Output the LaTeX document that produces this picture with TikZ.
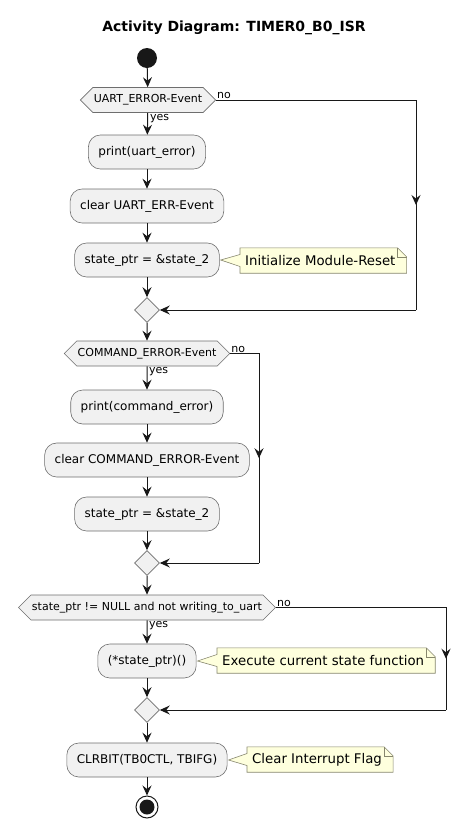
\documentclass[tikz,border=0pt]{standalone}
\usepackage{fontspec}
\setmainfont{DejaVu Sans}
\usetikzlibrary{arrows.meta,shapes.geometric,shapes.symbols,backgrounds,calc}
\definecolor{lnc}{HTML}{181818}
\definecolor{boxfill}{HTML}{F1F1F1}
\definecolor{boxline}{HTML}{6E6E6E}
\definecolor{notefill}{HTML}{FEFFDD}
\definecolor{noteline}{HTML}{86866C}
\begin{document}
\begin{tikzpicture}[x=1pt,y=-1pt,
  arr/.style={draw=lnc,line width=1pt,-{Stealth[length=10pt,width=9pt,inset=3.5pt]}},
  act/.style={draw=boxline,line width=0.6pt,fill=boxfill,rounded corners=12pt,
    minimum height=34pt,inner xsep=10pt,font=\fontsize{12}{14}\selectfont},
  decide/.style={draw=boxline,line width=0.6pt,fill=boxfill,signal,signal to=east and west,
    signal pointer angle=90,minimum height=25pt,inner xsep=1pt,font=\fontsize{11}{13}\selectfont},
  merge/.style={draw=boxline,line width=0.6pt,fill=boxfill,diamond,minimum width=25pt,
    minimum height=25pt,inner sep=0pt},
  notebox/.style={anchor=west,minimum height=25pt,inner xsep=5pt,font=\fontsize{13.3}{15}\selectfont},
  lbl/.style={inner sep=1pt,font=\fontsize{11}{13}\selectfont}]
\useasboundingbox (0,0) rectangle (470,828);

% title
\node[font=\fontsize{14}{16}\selectfont\bfseries] (title) at (234,28) {Activity Diagram: TIMER0\_B0\_ISR};

% start
\node[circle,fill=lnc,minimum size=20pt,inner sep=0pt] (start) at (147,58) {};

% uart error branch
\node[decide] (d1) at (148,100) {UART\_ERROR-Event};
\node[act] (a1) at (147,152) {print(uart\_error)};
\node[act] (a2) at (147,206) {clear UART\_ERR-Event};
\node[act] (a3) at (147,260) {state\_ptr = \&state\_2};
\node[notebox] (nt1) at (240,260.5) {Initialize Module-Reset\kern6pt};
\node[merge] (m1) at (147,310) {};
\coordinate (r1) at (416,100);
\coordinate (r1b) at (416,310);

% command error branch
\node[decide] (d2) at (147,353.5) {COMMAND\_ERROR-Event};
\node[act] (a4) at (147,407) {print(command\_error)};
\node[act] (a5) at (147,460) {clear COMMAND\_ERROR-Event};
\node[act] (a6) at (147,514) {state\_ptr = \&state\_2};
\node[merge] (m2) at (147,563) {};
\coordinate (r2) at (259,353.5);
\coordinate (r2b) at (259,563);

% state function
\node[decide] (d3) at (147,607.5) {state\_ptr != NULL and not writing\_to\_uart};
\node[act] (a7) at (147,661) {(*state\_ptr)()};
\node[notebox] (nt2) at (217,660.5) {Execute current state function\kern6pt};
\node[merge] (m3) at (147,710) {};
\coordinate (r3) at (446,607.5);
\coordinate (r3b) at (446,710);

% clear flag + stop
\node[act] (a8) at (147,760) {CLRBIT(TB0CTL, TBIFG)};
\node[notebox] (nt3) at (247,759.5) {Clear Interrupt Flag\kern6pt};
\node[circle,draw=lnc,line width=1pt,minimum size=22pt,inner sep=0pt] (stop) at (147,807) {};
\fill[lnc] (stop) circle (7.5pt);

% notes
\begin{scope}[on background layer]
\foreach \n/\a in {nt1/a3,nt2/a7,nt3/a8} {
  \filldraw[fill=notefill,draw=noteline,line width=0.6pt]
    (\n.south west) -- (\n.north west) -- ([xshift=-9pt]\n.north east)
    -- ([yshift=-9pt]\n.north east) -- (\n.south east) -- cycle;
  \draw[noteline,line width=0.6pt] ([xshift=-9pt]\n.north east) |- ([yshift=-9pt]\n.north east);
  \fill[notefill] ([xshift=1pt]\a.east) -- ([xshift=1pt,yshift=-6pt]\n.west) -- ([xshift=1pt,yshift=6pt]\n.west) -- cycle;
  \draw[noteline,line width=0.6pt] ([yshift=-6pt]\n.west) -- ([xshift=1pt]\a.east) -- ([yshift=6pt]\n.west);
}
\end{scope}

% flow
\draw[arr] (start) -- (d1);
\draw[arr] (d1) -- (a1);
\node[lbl,anchor=north west] at ([xshift=1pt]d1.south) {yes};
\node[lbl,anchor=south west] at (d1.east) {no};
\draw[arr] (a1) -- (a2);
\draw[arr] (a2) -- (a3);
\draw[arr] (a3) -- (m1);
\draw[lnc,line width=1pt] (d1.east) -- (r1) -- (r1b);
\draw[arr] (r1) -- ($(r1)!.5!(r1b)$);
\draw[arr] (r1b) -- (m1.east);

\draw[arr] (m1) -- (d2);
\draw[arr] (d2) -- (a4);
\node[lbl,anchor=north west] at ([xshift=1pt]d2.south) {yes};
\node[lbl,anchor=south west] at (d2.east) {no};
\draw[arr] (a4) -- (a5);
\draw[arr] (a5) -- (a6);
\draw[arr] (a6) -- (m2);
\draw[lnc,line width=1pt] (d2.east) -- (r2) -- (r2b);
\draw[arr] (r2) -- ($(r2)!.5!(r2b)$);
\draw[arr] (r2b) -- (m2.east);

\draw[arr] (m2) -- (d3);
\draw[arr] (d3) -- (a7);
\node[lbl,anchor=north west] at ([xshift=1pt]d3.south) {yes};
\node[lbl,anchor=south west] at (d3.east) {no};
\draw[arr] (a7) -- (m3);
\draw[lnc,line width=1pt] (d3.east) -- (r3) -- (r3b);
\draw[arr] (r3) -- ($(r3)!.5!(r3b)$);
\draw[arr] (r3b) -- (m3.east);

\draw[arr] (m3) -- (a8);
\draw[arr] (a8) -- (stop);
\end{tikzpicture}
\end{document}
